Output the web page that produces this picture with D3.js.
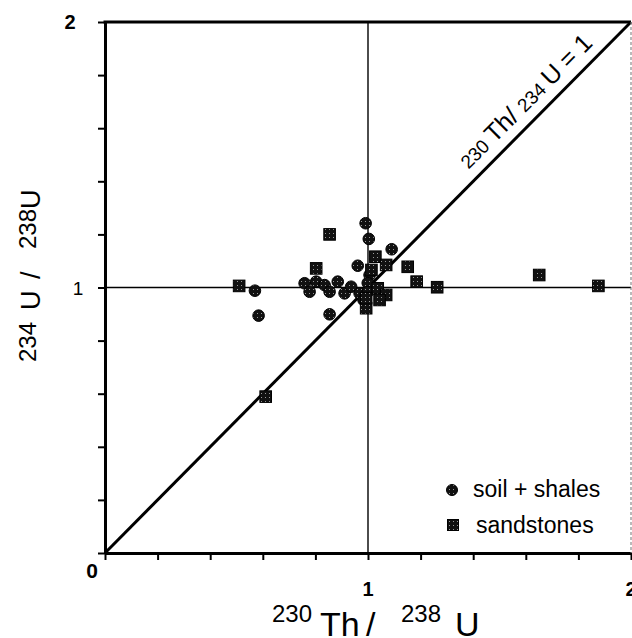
<!DOCTYPE html>
<html>
<head>
<meta charset="utf-8">
<script src="https://cdn.jsdelivr.net/npm/d3@7"></script>
<style>
body{margin:0;background:#fff;}
svg{display:block;}
text{font-family:"Liberation Sans",Arial,Helvetica,sans-serif;fill:#000;}
</style>
</head>
<body>
<svg id="chart" width="632" height="638"></svg>
<script>
// 230Th/238U (x) vs 234U/238U (y)
var soilShales = [
	[0.991,1.242],[1.003,1.183],[1.090,1.144],[0.961,1.082],[0.759,1.016],
	[0.778,0.984],[0.803,1.022],[0.835,1.009],[0.854,0.984],[0.885,1.022],
	[0.911,0.978],[0.936,1.003],[0.968,0.978],[1.006,1.047],[0.999,1.017],
	[0.999,0.983],[0.854,0.899],[0.570,0.988],[0.584,0.894],[0.983,0.953]
];
var sandstones = [
	[0.854,1.200],[1.028,1.116],[1.069,1.085],[0.803,1.072],[1.151,1.078],
	[1.185,1.022],[1.263,1.001],[1.651,1.047],[1.876,1.006],[0.510,1.006],
	[0.611,0.589],[0.993,0.922],[1.037,0.997],[1.069,0.972],[1.044,0.953],
	[1.013,1.066],[0.993,0.960]
];
var tickValues = [0,0.2,0.4,0.6,0.8,1,1.2,1.4,1.6,1.8,2];
var labelValues = [0,1,2];
var equilibriumLine = [[0,0],[2,2]];
var legendItems = ["soil + shales","sandstones"];

var svg = d3.select("#chart");
var x = d3.scaleLinear().domain([0,2]).range([105,631]);
var y = d3.scaleLinear().domain([0,2]).range([553,22]);

// dotted texture of the markers
var pat = svg.append("defs").append("pattern")
	.attr("id","speck").attr("width",4).attr("height",4)
	.attr("patternUnits","userSpaceOnUse");
pat.append("rect").attr("width",4).attr("height",4).attr("fill","#111");
pat.append("rect").attr("x",1).attr("y",1).attr("width",1).attr("height",1).attr("fill","#999");

// reference lines at 1
svg.append("line")
	.attr("x1",x(1)).attr("x2",x(1)).attr("y1",y(0)).attr("y2",y(2))
	.attr("stroke","#000").attr("stroke-width",1.4);
svg.append("line")
	.attr("x1",x(0)).attr("x2",x(2)).attr("y1",y(1)).attr("y2",y(1))
	.attr("stroke","#000").attr("stroke-width",1.4);

// 1:1 line
var lineFunction = d3.line().x(function(d){ return x(d[0]); }).y(function(d){ return y(d[1]); });
svg.append("path")
	.attr("d",lineFunction(equilibriumLine))
	.attr("stroke","#000").attr("stroke-width",3).attr("fill","none");

var lx = x(1.65) - 14, ly = y(1.65) - 14;
var diag = svg.append("text")
	.attr("transform","translate("+lx+","+ly+") rotate(-45)")
	.attr("text-anchor","middle")
	.attr("dy","0.35em")
	.style("font-size","25px");
diag.append("tspan").style("font-size","19px").text("230 ");
diag.append("tspan").text("Th/ ");
diag.append("tspan").style("font-size","19px").text("234 ");
diag.append("tspan").text("U = 1");

// markers
svg.append("g").selectAll("circle")
	.data(soilShales).enter().append("circle")
	.attr("cx",function(d){ return x(d[0]); })
	.attr("cy",function(d){ return y(d[1]); })
	.attr("r",5.8)
	.attr("fill","url(#speck)")
	.attr("stroke","#000").attr("stroke-width",1);

svg.append("g").selectAll("rect")
	.data(sandstones).enter().append("rect")
	.attr("x",function(d){ return x(d[0]) - 5.8; })
	.attr("y",function(d){ return y(d[1]) - 5.8; })
	.attr("width",11.6).attr("height",11.6)
	.attr("fill","url(#speck)")
	.attr("stroke","#000").attr("stroke-width",1);

// axes
var xAxis = svg.append("g")
	.attr("transform","translate(0,"+y(0)+")")
	.call(d3.axisBottom(x).tickValues(tickValues).tickSize(7).tickSizeOuter(0).tickFormat(""));
var yAxis = svg.append("g")
	.attr("transform","translate("+x(0)+",0)")
	.call(d3.axisLeft(y).tickValues(tickValues).tickSize(7).tickSizeOuter(0).tickFormat(""));
[xAxis,yAxis].forEach(function(a){
	a.select(".domain").attr("stroke","#000").attr("stroke-width",3);
	a.selectAll(".tick line").attr("stroke","#000").attr("stroke-width",2);
});
svg.append("line")
	.attr("x1",x(0)-1.5).attr("x2",x(2)).attr("y1",y(2)).attr("y2",y(2))
	.attr("stroke","#000").attr("stroke-width",3);
svg.append("line")
	.attr("x1",x(2)).attr("x2",x(2)).attr("y1",y(2)).attr("y2",y(0))
	.attr("stroke","#777").attr("stroke-width",1).attr("stroke-dasharray","3,2");

// tick labels
svg.append("text").attr("x",x(0)-13).attr("y",y(0)+25).attr("text-anchor","middle")
	.style("font-size","21px").style("font-weight","bold").text(labelValues[0]);
labelValues.slice(1).forEach(function(v){
	svg.append("text").attr("x",x(v)).attr("y",y(0)+43).attr("text-anchor","middle")
		.style("font-size","20px").style("font-weight","bold").text(v);
});
svg.append("text").attr("x",x(0)-27).attr("y",y(1)+7).attr("text-anchor","middle")
	.style("font-size","19px").text(labelValues[1]);
svg.append("text").attr("x",x(0)-35).attr("y",y(2)+7).attr("text-anchor","middle")
	.style("font-size","20px").style("font-weight","bold").text(labelValues[2]);

// axis titles
var xt = svg.append("text");
xt.append("tspan").attr("x",272).attr("y",622).style("font-size","24px").text("230");
xt.append("tspan").attr("x",320).attr("y",636).style("font-size","34px").text("Th");
xt.append("tspan").attr("x",366).attr("y",636).style("font-size","34px").text("/");
xt.append("tspan").attr("x",401).attr("y",622).style("font-size","24px").text("238");
xt.append("tspan").attr("x",455).attr("y",636).style("font-size","34px").text("U");

var yt = svg.append("text").attr("transform","rotate(-90)");
yt.append("tspan").attr("x",-362).attr("y",36).style("font-size","24px").text("234");
yt.append("tspan").attr("x",-310).attr("y",40).style("font-size","27px").text("U");
yt.append("tspan").attr("x",-279).attr("y",40).style("font-size","27px").text("/");
yt.append("tspan").attr("x",-249).attr("y",36).style("font-size","24px").text("238");
yt.append("tspan").attr("x",-209).attr("y",40).style("font-size","27px").text("U");

// legend
var legend = svg.append("g");
legend.append("circle").attr("cx",452).attr("cy",490).attr("r",5.5)
	.attr("fill","url(#speck)").attr("stroke","#000");
legend.append("rect").attr("x",447.5).attr("y",519.5).attr("width",11).attr("height",11)
	.attr("fill","url(#speck)").attr("stroke","#000");
legend.append("text").attr("x",473).attr("y",497).style("font-size","23px").text(legendItems[0]);
legend.append("text").attr("x",476).attr("y",533).style("font-size","23px").text(legendItems[1]);
</script>
</body>
</html>
